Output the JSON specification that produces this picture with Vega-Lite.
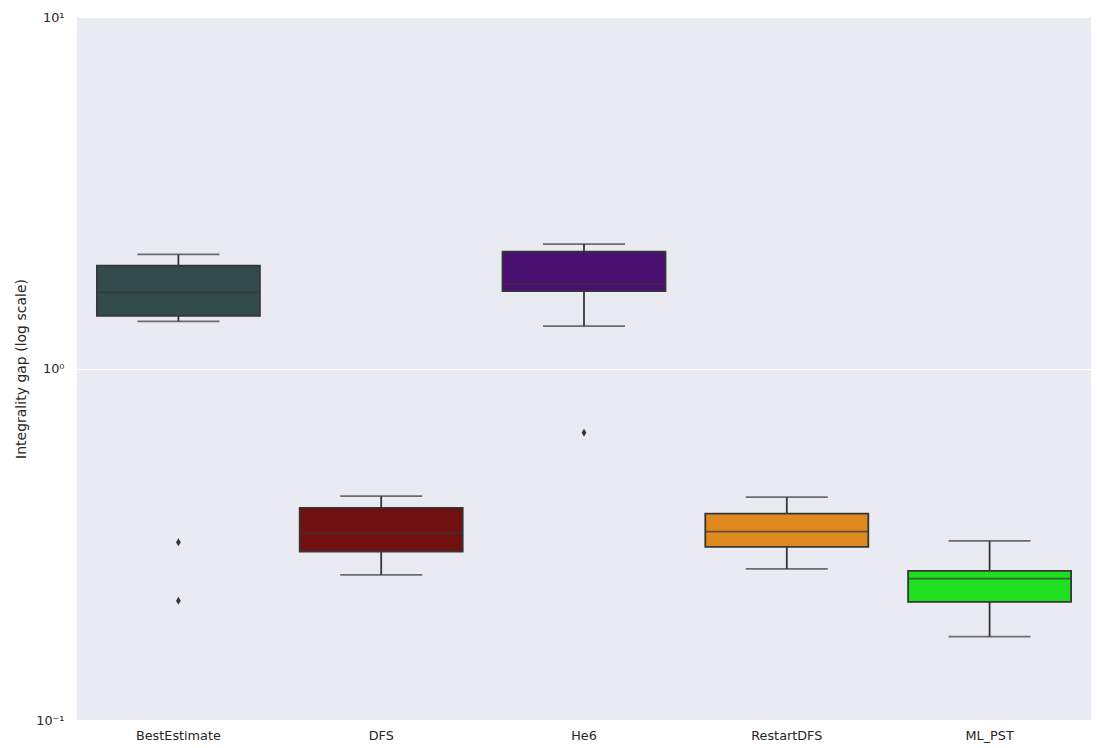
{
  "$schema": "https://vega.github.io/schema/vega-lite/v6.json",
  "autosize": {"type": "none"},
  "width": 1014,
  "height": 703,
  "padding": {"left": 77, "top": 17, "right": 6, "bottom": 28},
  "background": "white",
  "datasets": {
    "stats": [
      {"algo": "BestEstimate", "lower": 1.361, "q1": 1.413, "median": 1.645, "q3": 1.960, "upper": 2.111},
      {"algo": "DFS", "lower": 0.2587, "q1": 0.3014, "median": 0.3401, "q3": 0.4014, "upper": 0.4334},
      {"algo": "He6", "lower": 1.320, "q1": 1.661, "median": 1.739, "q3": 2.149, "upper": 2.260},
      {"algo": "RestartDFS", "lower": 0.2691, "q1": 0.3109, "median": 0.3436, "q3": 0.3867, "upper": 0.4305},
      {"algo": "ML_PST", "lower": 0.1726, "q1": 0.2168, "median": 0.2525, "q3": 0.2655, "upper": 0.3233}
    ],
    "outliers": [
      {"algo": "BestEstimate", "value": 0.3206},
      {"algo": "BestEstimate", "value": 0.2183},
      {"algo": "He6", "value": 0.656}
    ]
  },
  "config": {
    "view": {"fill": "#EAEAF2", "stroke": null},
    "font": "DejaVu Sans",
    "axis": {
      "labelFont": "DejaVu Sans",
      "titleFont": "DejaVu Sans",
      "labelColor": "#262626",
      "titleColor": "#262626",
      "labelFontSize": 12.8,
      "titleFontSize": 14,
      "titleFontWeight": "normal",
      "domain": false,
      "ticks": false
    }
  },
  "encoding": {
    "x": {
      "field": "algo",
      "type": "nominal",
      "sort": ["BestEstimate", "DFS", "He6", "RestartDFS", "ML_PST"],
      "scale": {"paddingInner": 0, "paddingOuter": 0},
      "axis": {"title": null, "labelAngle": 0, "labelPadding": 9, "grid": false}
    }
  },
  "layer": [
    {
      "data": {"name": "stats"},
      "mark": {"type": "rule", "color": "#363636", "strokeWidth": 1.8},
      "encoding": {
        "y": {
          "field": "lower",
          "type": "quantitative",
          "title": "Integrality gap (log scale)",
          "scale": {"type": "log", "domain": [0.1, 10], "nice": false},
          "axis": {
            "values": [0.1, 1, 10],
            "labelExpr": "datum.value >= 5 ? '10¹' : (datum.value >= 0.5 ? '10⁰' : '10⁻¹')",
            "grid": true,
            "gridColor": "white",
            "gridWidth": 1,
            "labelPadding": 13,
            "titlePadding": 7
          }
        },
        "y2": {"field": "upper"}
      }
    },
    {
      "data": {"name": "stats"},
      "mark": {"type": "tick", "color": "#363636", "size": 82, "thickness": 1.8},
      "encoding": {
        "y": {"field": "lower", "type": "quantitative", "title": "Integrality gap (log scale)"}
      }
    },
    {
      "data": {"name": "stats"},
      "mark": {"type": "tick", "color": "#363636", "size": 82, "thickness": 1.8},
      "encoding": {
        "y": {"field": "upper", "type": "quantitative", "title": "Integrality gap (log scale)"}
      }
    },
    {
      "data": {"name": "stats"},
      "mark": {"type": "bar", "size": 163, "stroke": "#363636", "strokeWidth": 1.8, "opacity": 1},
      "encoding": {
        "y": {"field": "q1", "type": "quantitative", "title": "Integrality gap (log scale)"},
        "y2": {"field": "q3"},
        "color": {
          "field": "algo",
          "type": "nominal",
          "scale": {
            "domain": ["BestEstimate", "DFS", "He6", "RestartDFS", "ML_PST"],
            "range": ["#334b4b", "#701010", "#491072", "#df8a20", "#20df20"]
          },
          "legend": null
        }
      }
    },
    {
      "data": {"name": "stats"},
      "mark": {"type": "tick", "color": "#363636", "size": 163, "thickness": 1.8},
      "encoding": {
        "y": {"field": "median", "type": "quantitative", "title": "Integrality gap (log scale)"}
      }
    },
    {
      "data": {"name": "outliers"},
      "mark": {
        "type": "point",
        "shape": "M0,-1L0.6,0L0,1L-0.6,0Z",
        "filled": true,
        "color": "#363636",
        "opacity": 1,
        "size": 64
      },
      "encoding": {
        "y": {"field": "value", "type": "quantitative", "title": "Integrality gap (log scale)"}
      }
    }
  ]
}
